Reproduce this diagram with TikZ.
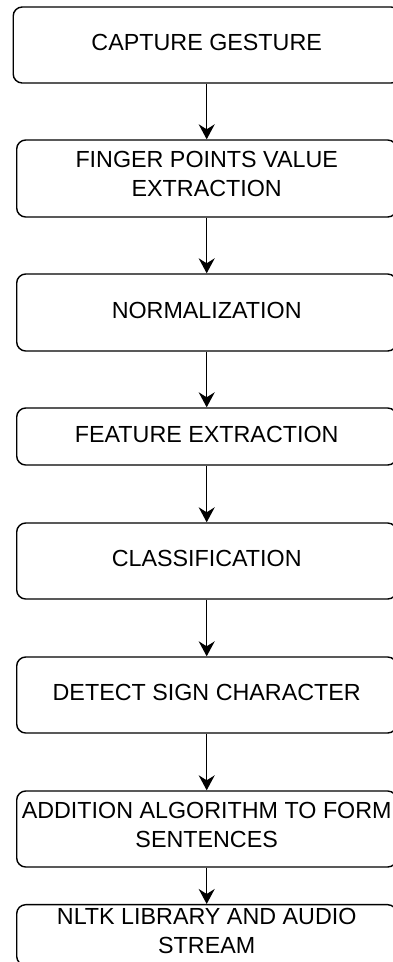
\documentclass[tikz,border=0pt]{standalone}
\usepackage{fontspec}
\setmainfont{Liberation Sans}
\usepackage{tikz}
\usetikzlibrary{arrows.meta}

\tikzset{
    stage/.style={draw, line width=1.4pt, rounded corners=9pt, align=center,
        minimum width=380pt, font=\fontsize{23.3}{29}\selectfont,
        execute at begin node=\strut, execute at end node=\strut},
    flow/.style={line width=1.4pt, -{Stealth[length=15pt, width=16pt, inset=5pt]}}
}

\begin{document}
\begin{tikzpicture}[x=1pt, y=-1pt]
        \useasboundingbox (0, 0) rectangle (393, 962);

        % stages, top to bottom
        \node [stage, minimum width=387pt, minimum height=76pt] (capture) at (206.7, 45) {CAPTURE GESTURE};
        \node [stage, minimum height=77pt] (finger) at (206.7, 178.5) {FINGER POINTS VALUE\\EXTRACTION};
        \node [stage, minimum height=77pt] (norm) at (206.7, 312.5) {NORMALIZATION};
        \node [stage, minimum height=57pt] (feature) at (206.7, 436.5) {FEATURE EXTRACTION};
        \node [stage, minimum height=76pt] (classify) at (206.7, 561) {CLASSIFICATION};
        \node [stage, minimum height=76pt] (detect) at (206.7, 695) {DETECT SIGN CHARACTER};
        \node [stage, minimum height=76pt] (sentence) at (206.7, 829) {ADDITION ALGORITHM TO FORM\\SENTENCES};
        \node [stage, minimum height=60pt] (nltk) at (206.7, 935) {NLTK LIBRARY AND AUDIO\\STREAM};

        % arrows between stages
        \foreach \a/\b in {capture/finger, finger/norm, norm/feature, feature/classify,
                classify/detect, detect/sentence, sentence/nltk} {
            \draw [flow] (\a) -- (\b);
        }
    \end{tikzpicture}
\end{document}
